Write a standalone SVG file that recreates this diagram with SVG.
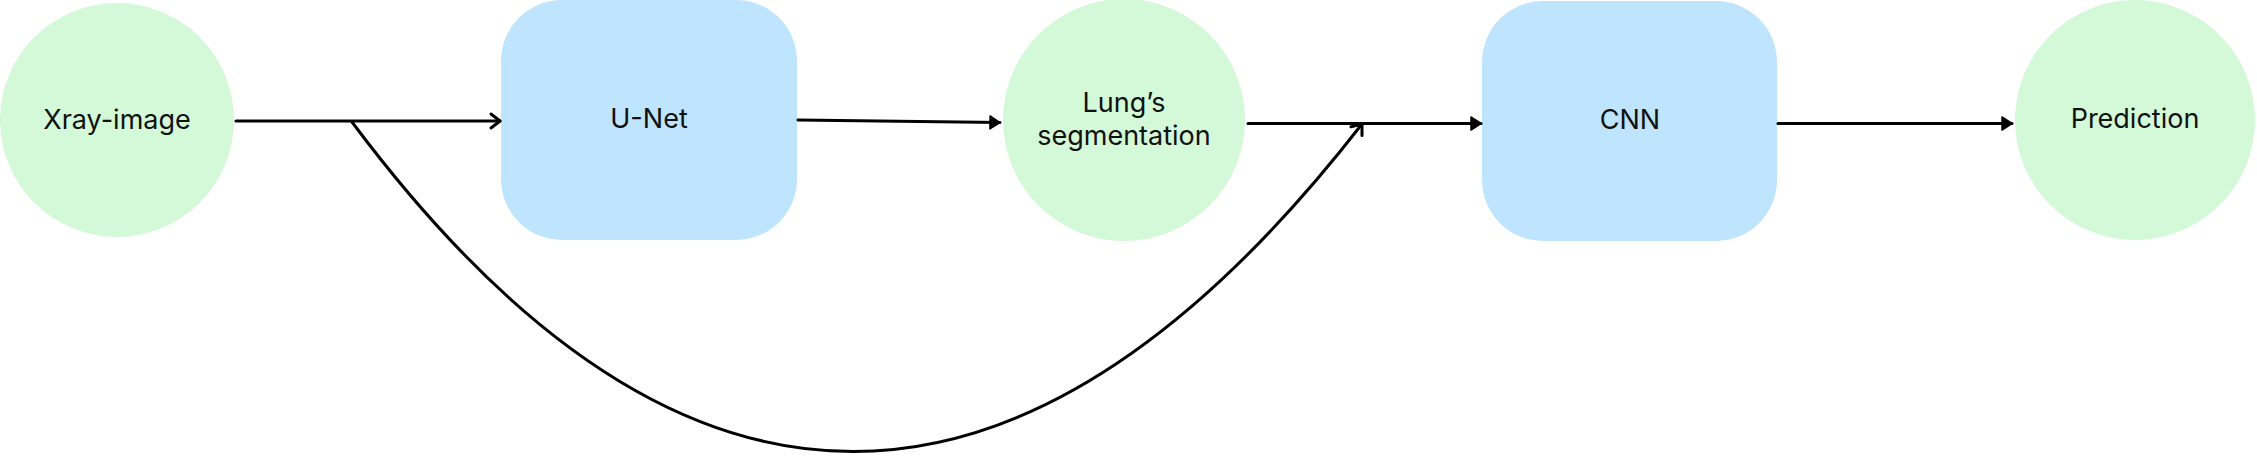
<svg xmlns="http://www.w3.org/2000/svg" width="2257" height="471" viewBox="0 0 2257 471">
  <style>
    .circ { fill: #d3f9d8; }
    .box { fill: #bfe4fd; }
    .lbl { font-family: Inter, "Noto Sans", "Liberation Sans", sans-serif; font-size: 27px; fill: #111; text-anchor: middle; }
    .edge { fill: none; stroke: #000; stroke-width: 3; stroke-linecap: round; }
  </style>
  <defs>
    <marker id="open" markerUnits="userSpaceOnUse" markerWidth="20" markerHeight="20" viewBox="-12 -10 16 20" refX="0" refY="0" orient="auto">
      <path d="M-9,-7 L0,0 L-9,7" fill="none" stroke="#000" stroke-width="3" stroke-linecap="round" stroke-linejoin="round"/>
    </marker>
    <marker id="fill" markerUnits="userSpaceOnUse" markerWidth="20" markerHeight="20" viewBox="-12 -10 16 20" refX="0" refY="0" orient="auto">
      <path d="M-10,-6.5 L0,0 L-10,6.5 Z" fill="#000" stroke="#000" stroke-width="1.5" stroke-linejoin="round"/>
    </marker>
  </defs>

  <g id="xray">
    <circle class="circ" cx="117" cy="120" r="117"/>
    <text class="lbl" x="117" y="129">Xray-image</text>
  </g>
  <g id="unet">
    <rect class="box" x="501" y="0" width="296" height="240" rx="61" ry="61"/>
    <text class="lbl" x="649" y="128">U-Net</text>
  </g>
  <g id="lung">
    <circle class="circ" cx="1124" cy="120" r="121"/>
    <text class="lbl" x="1124" y="112">Lung’s</text>
    <text class="lbl" x="1124" y="145">segmentation</text>
  </g>
  <g id="cnn">
    <rect class="box" x="1482" y="1" width="295" height="240" rx="61" ry="61"/>
    <text class="lbl" x="1630" y="129">CNN</text>
  </g>
  <g id="prediction">
    <circle class="circ" cx="2135" cy="120" r="120"/>
    <text class="lbl" x="2135" y="128">Prediction</text>
  </g>

  <g id="connectors">
    <path class="edge" d="M236,121 L500,121" marker-end="url(#open)"/>
    <path class="edge" d="M798,120 L1000,122.5" marker-end="url(#fill)"/>
    <path class="edge" d="M1248,123.5 L1481,123.5" marker-end="url(#fill)"/>
    <path class="edge" d="M1778,123.5 L2012,123.5" marker-end="url(#fill)"/>
    <path class="edge" d="M352,122 C680,561 1022,561 1362,124" marker-end="url(#open)"/>
  </g>
</svg>
